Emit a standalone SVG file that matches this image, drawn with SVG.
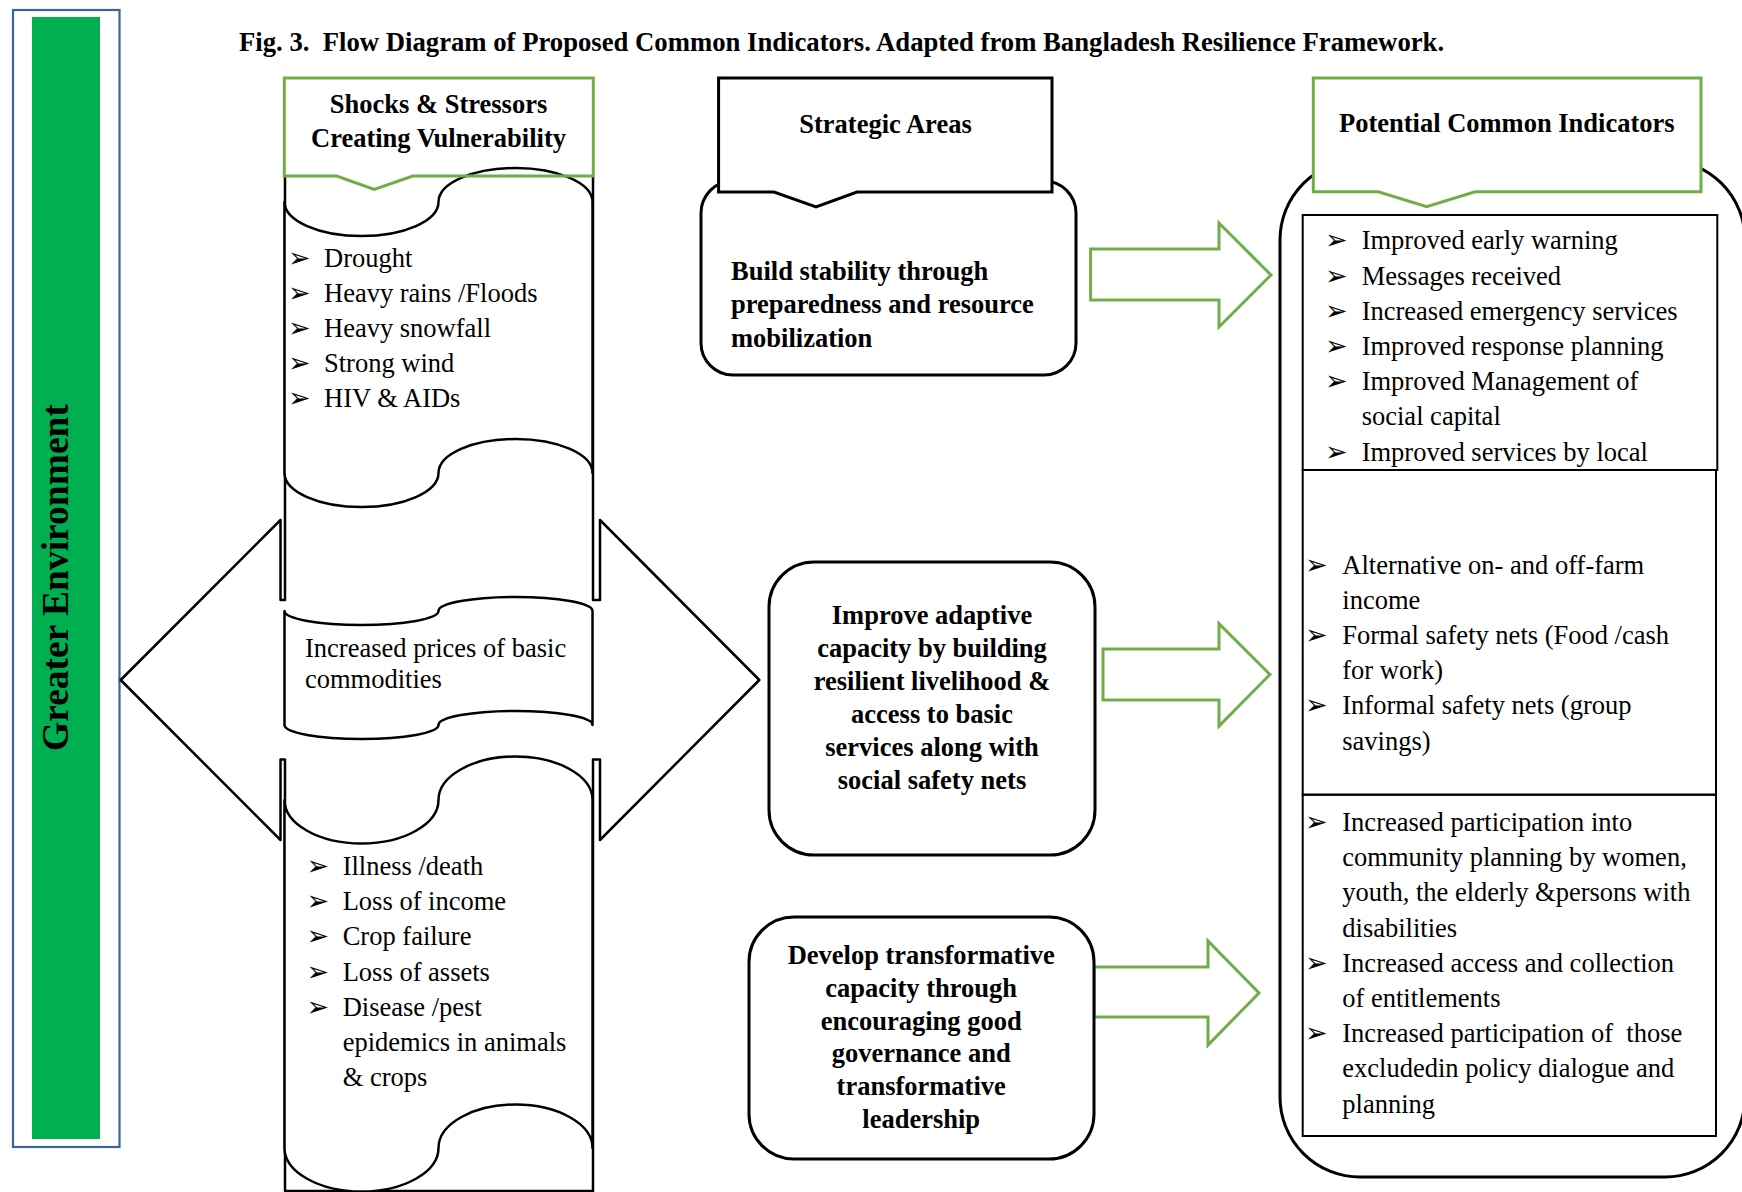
<svg xmlns="http://www.w3.org/2000/svg" width="1742" height="1192" viewBox="0 0 1742 1192">
  <style>
    text { font-family: "Liberation Serif", "Times New Roman", serif; font-size: 26.5px; fill: #000; }
    .b { font-weight: bold; }
    .c { text-anchor: middle; }
    .pre { white-space: pre; }
    .bul { font-family: "DejaVu Sans", sans-serif; font-size: 27px; }
    .ln { fill: #fff; stroke: #000; stroke-width: 2.5; stroke-linejoin: round; }
    .box { fill: #fff; stroke: #000; stroke-width: 3; }
    .gr { fill: #fff; stroke: #70AD47; stroke-width: 3; }
    .grl { fill: none; stroke: #70AD47; stroke-width: 3; }
    .tbl { fill: none; stroke: #000; stroke-width: 2; }
  </style>

  <rect width="1742" height="1192" fill="#fff"/>

  <!-- vertical side band -->
  <g id="greater-environment">
    <rect x="13" y="10" width="106.5" height="1137" fill="#fff" stroke="#3A6494" stroke-width="2.2"/>
    <rect x="32" y="17" width="68" height="1122" fill="#00B050"/>
    <text class="b c" style="font-size:37.5px" transform="translate(68,577.5) rotate(-90)">Greater Environment</text>
  </g>

  <g id="title">
    <text class="b pre" style="font-size:26.7px" x="239" y="51">Fig. 3.  Flow Diagram of Proposed Common Indicators. Adapted from Bangladesh Resilience Framework.</text>
  </g>

  <!-- shocks column: left-right arrow callout (top edge left open under the header) -->
  <g id="shocks-column">
    <path class="ln" d="M285,176 L285,600 L280.5,600 L280.5,520 L120.7,680 L280.5,840 L280.5,759.5 L285,759.5 L285,1191 L593,1191 L593,759.5 L600,759.5 L600,840 L759.3,680 L600,520 L600,600 L593,600 L593,176"/>
  </g>

  <!-- punched-tape panels -->
  <g id="tape-hazards">
    <path class="ln" d="M284.5,202 A77,34 0 0 0 438.5,202 A77,34 0 0 1 592.5,202 L592.5,473 A77,34 0 0 0 438.5,473 A77,34 0 0 1 284.5,473 Z"/>
    <text class="bul" x="288" y="266.7">➢</text>
    <text class="bul" x="288" y="301.7">➢</text>
    <text class="bul" x="288" y="336.7">➢</text>
    <text class="bul" x="288" y="371.7">➢</text>
    <text class="bul" x="288" y="406.7">➢</text>
    <text x="324" y="266.7">Drought</text>
    <text x="324" y="301.7">Heavy rains /Floods</text>
    <text x="324" y="336.7">Heavy snowfall</text>
    <text x="324" y="371.7">Strong wind</text>
    <text x="324" y="406.7">HIV &amp; AIDs</text>
  </g>

  <g id="shocks-header">
    <path class="grl" d="M284.3,78 L593.3,78 L593.3,176 L412.7,176 L374.3,189.3 L336.7,176 L284.3,176 Z"/>
    <text class="b c" x="438.5" y="113.3">Shocks &amp; Stressors</text>
    <text class="b c" x="438.5" y="146.7">Creating Vulnerability</text>
  </g>

  <g id="tape-prices">
    <path class="ln" d="M284.5,611 A77,14 0 0 0 438.5,611 A77,14 0 0 1 592.5,611 L592.5,725 A77,14 0 0 0 438.5,725 A77,14 0 0 1 284.5,725 Z"/>
    <text x="305" y="656.7">Increased prices of basic</text>
    <text x="305" y="688.3">commodities</text>
  </g>

  <g id="tape-livelihood">
    <path class="ln" d="M284.5,800 A77,43.5 0 0 0 438.5,800 A77,43.5 0 0 1 592.5,800 L592.5,1148 A77,43.5 0 0 0 438.5,1148 A77,43.5 0 0 1 284.5,1148 Z"/>
    <text class="bul" x="306.5" y="875">➢</text>
    <text class="bul" x="306.5" y="910.2">➢</text>
    <text class="bul" x="306.5" y="945.4">➢</text>
    <text class="bul" x="306.5" y="980.6">➢</text>
    <text class="bul" x="306.5" y="1015.8">➢</text>
    <text x="342.7" y="875">Illness /death</text>
    <text x="342.7" y="910.2">Loss of income</text>
    <text x="342.7" y="945.4">Crop failure</text>
    <text x="342.7" y="980.6">Loss of assets</text>
    <text x="342.7" y="1015.8">Disease /pest</text>
    <text x="342.7" y="1051">epidemics in animals</text>
    <text x="342.7" y="1086.2">&amp; crops</text>
  </g>

  <!-- block arrows leading to the indicators -->
  <g id="connectors">
    <polygon class="gr" points="1090.6,249 1219,249 1219,223 1271,275 1219,327 1219,300 1090.6,300"/>
    <polygon class="gr" points="1103,649 1219,649 1219,623.6 1270,674.5 1219,726 1219,700 1103,700"/>
    <polygon class="gr" points="1094,967 1208,967 1208,941 1259,993 1208,1045 1208,1017 1094,1017"/>
  </g>

  <!-- strategic areas -->
  <g id="area-stability">
    <rect class="box" x="701" y="181" width="375" height="194" rx="32"/>
    <text class="b" x="731" y="280">Build stability through</text>
    <text class="b" x="731" y="313.3">preparedness and resource</text>
    <text class="b" x="731" y="346.7">mobilization</text>
  </g>

  <g id="strategic-header">
    <path class="box" d="M718.6,78 L1052,78 L1052,192 L857,192 L816,207 L774,192 L718.6,192 Z"/>
    <text class="b c" x="885.5" y="133.3">Strategic Areas</text>
  </g>

  <g id="area-adaptive">
    <rect class="box" x="769" y="562" width="326" height="293" rx="45"/>
    <text class="b c" x="932" y="624.4">Improve adaptive</text>
    <text class="b c" x="932" y="657.3">capacity by building</text>
    <text class="b c" x="932" y="690.2">resilient livelihood &amp;</text>
    <text class="b c" x="932" y="723.1">access to basic</text>
    <text class="b c" x="932" y="756">services along with</text>
    <text class="b c" x="932" y="788.9">social safety nets</text>
  </g>

  <g id="area-transformative">
    <rect class="box" x="749" y="917" width="345" height="242" rx="45"/>
    <text class="b c" x="921.2" y="964.2">Develop transformative</text>
    <text class="b c" x="921.2" y="996.9">capacity through</text>
    <text class="b c" x="921.2" y="1029.6">encouraging good</text>
    <text class="b c" x="921.2" y="1062.3">governance and</text>
    <text class="b c" x="921.2" y="1095">transformative</text>
    <text class="b c" x="921.2" y="1127.7">leadership</text>
  </g>

  <!-- indicators panel -->
  <g id="indicators-panel">
    <rect x="1280" y="160" width="465" height="1017" rx="80" fill="#fff" stroke="#000" stroke-width="3"/>
  </g>

  <g id="indicators-header">
    <path class="gr" d="M1313.3,78 L1701,78 L1701,191.7 L1475,191.7 L1426.7,206.7 L1378.3,191.7 L1313.3,191.7 Z"/>
    <text class="b c" x="1506.8" y="132.3">Potential Common Indicators</text>
  </g>

  <g id="indicators-stability">
    <rect class="tbl" x="1302.7" y="215" width="414.6" height="255"/>
    <text class="bul" x="1325" y="249.3">➢</text>
    <text class="bul" x="1325" y="284.5">➢</text>
    <text class="bul" x="1325" y="319.7">➢</text>
    <text class="bul" x="1325" y="354.9">➢</text>
    <text class="bul" x="1325" y="390.1">➢</text>
    <text class="bul" x="1325" y="460.5">➢</text>
    <text x="1361.7" y="249.3">Improved early warning</text>
    <text x="1361.7" y="284.5">Messages received</text>
    <text x="1361.7" y="319.7">Increased emergency services</text>
    <text x="1361.7" y="354.9">Improved response planning</text>
    <text x="1361.7" y="390.1">Improved Management of</text>
    <text x="1361.7" y="425.3">social capital</text>
    <text x="1361.7" y="460.5">Improved services by local</text>
  </g>

  <g id="indicators-adaptive">
    <rect class="tbl" x="1302.7" y="470" width="413.3" height="324.7"/>
    <text class="bul" x="1305" y="573.5">➢</text>
    <text class="bul" x="1305" y="643.9">➢</text>
    <text class="bul" x="1305" y="714.3">➢</text>
    <text x="1342.3" y="573.5">Alternative on- and off-farm</text>
    <text x="1342.3" y="608.7">income</text>
    <text x="1342.3" y="643.9">Formal safety nets (Food /cash</text>
    <text x="1342.3" y="679.1">for work)</text>
    <text x="1342.3" y="714.3">Informal safety nets (group</text>
    <text x="1342.3" y="749.5">savings)</text>
  </g>

  <g id="indicators-transformative">
    <rect class="tbl" x="1302.7" y="794.7" width="413.3" height="341.3"/>
    <text class="bul" x="1305" y="831">➢</text>
    <text class="bul" x="1305" y="971.8">➢</text>
    <text class="bul" x="1305" y="1042.2">➢</text>
    <text x="1342.3" y="831">Increased participation into</text>
    <text x="1342.3" y="866.2">community planning by women,</text>
    <text x="1342.3" y="901.4">youth, the elderly &amp;persons with</text>
    <text x="1342.3" y="936.6">disabilities</text>
    <text x="1342.3" y="971.8">Increased access and collection</text>
    <text x="1342.3" y="1007">of entitlements</text>
    <text class="pre" x="1342.3" y="1042.2">Increased participation of  those</text>
    <text x="1342.3" y="1077.4">excludedin policy dialogue and</text>
    <text x="1342.3" y="1112.6">planning</text>
  </g>
</svg>
